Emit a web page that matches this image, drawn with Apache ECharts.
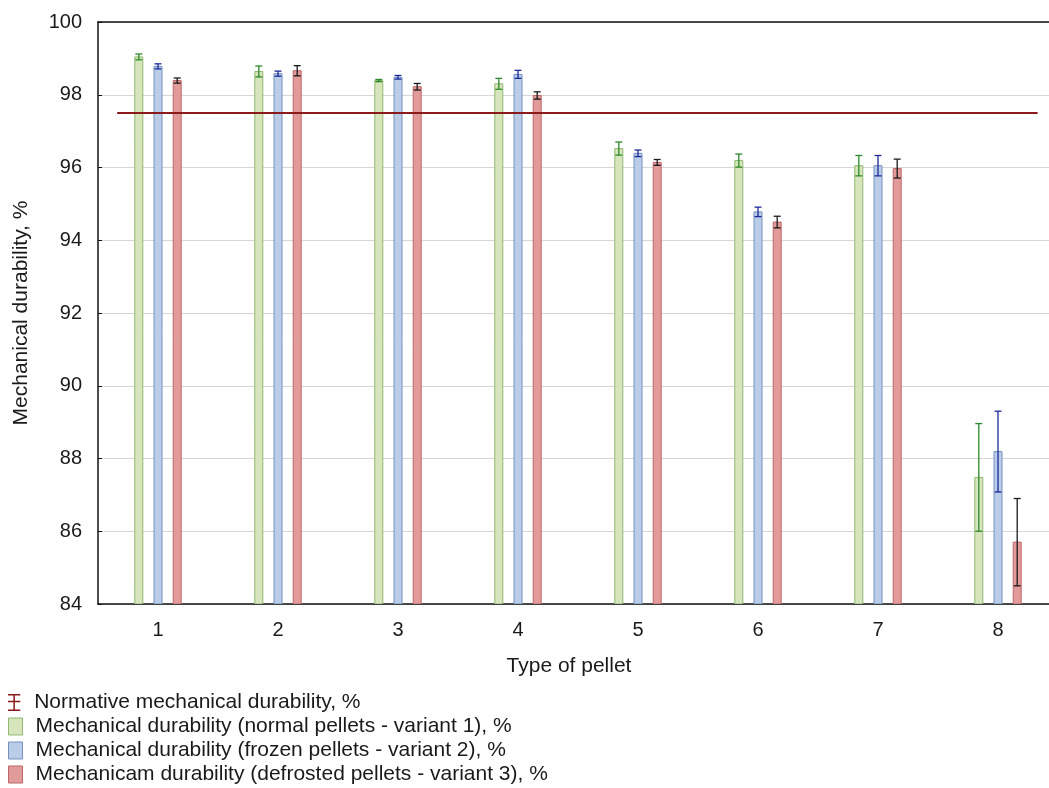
<!DOCTYPE html>
<html>
<head>
<meta charset="utf-8">
<script src="https://cdn.jsdelivr.net/npm/echarts@6/dist/echarts.min.js"></script>
<style>html,body{margin:0;padding:0;background:#fff;overflow:hidden;width:1049px;height:788px}#c{width:1058px;height:788px}</style>
</head>
<body>
<div id="c"></div>
<script>
const categories = ['1','2','3','4','5','6','7','8'];
const yTicks = [84,86,88,90,92,94,96,98,100];
const normative = 97.5;
const normativeSpan = [0.66, 8.33];
const normalVals = [99.04, 98.64, 98.39, 98.30, 96.52, 96.19, 96.05, 87.48];
const normalErr  = [0.08, 0.15, 0.03, 0.15, 0.18, 0.18, 0.28, 1.48];
const frozenVals = [98.78, 98.58, 98.48, 98.56, 96.39, 94.78, 96.05, 88.19];
const frozenErr  = [0.07, 0.07, 0.05, 0.11, 0.09, 0.13, 0.28, 1.11];
const defrostVals = [98.39, 98.66, 98.22, 97.98, 96.14, 94.50, 95.97, 85.70];
const defrostErr  = [0.07, 0.14, 0.09, 0.10, 0.08, 0.16, 0.26, 1.20];
const names = [
  'Normative mechanical durability, %',
  'Mechanical durability (normal pellets - variant 1), %',
  'Mechanical durability (frozen pellets - variant 2), %',
  'Mechanicam durability (defrosted pellets - variant 3), %'
];

const FONT = 'Liberation Sans, Arial, sans-serif';
const styles = [
  {fill:'#d6e5bb', stroke:'#93b872', err:'#2b8a2b'},
  {fill:'#b9cde8', stroke:'#7592bf', err:'#1b2a9a'},
  {fill:'#e29b9b', stroke:'#c06666', err:'#1a1a1a'}
];
const offsets = [-0.16, 0, 0.16];
const BASE = yTicks[0];

function barSeries(idx, vals, errs) {
  const st = styles[idx];
  return {
    type: 'custom',
    name: names[idx + 1],
    xAxisIndex: 2,
    yAxisIndex: 0,
    clip: true,
    data: vals.map((v, i) => [i + 1, v, errs[i]]),
    renderItem: function (params, api) {
      const x = api.value(0) + offsets[idx];
      const v = api.value(1), e = api.value(2);
      const top = api.coord([x, v]);
      const bot = api.coord([x, BASE]);
      const eTop = api.coord([x, v + e]);
      const eBot = api.coord([x, v - e]);
      const w = 8, cap = 3.5;
      return {
        type: 'group',
        children: [
          {type:'rect', shape:{x: top[0] - w/2, y: top[1], width: w, height: bot[1] - top[1]},
           style:{fill: st.fill, stroke: st.stroke, lineWidth: 1}},
          {type:'line', shape:{x1: top[0], y1: eTop[1], x2: top[0], y2: eBot[1]}, style:{stroke: st.err, lineWidth: 1.3}},
          {type:'line', shape:{x1: top[0]-cap, y1: eTop[1], x2: top[0]+cap, y2: eTop[1]}, style:{stroke: st.err, lineWidth: 1.3}},
          {type:'line', shape:{x1: top[0]-cap, y1: eBot[1], x2: top[0]+cap, y2: eBot[1]}, style:{stroke: st.err, lineWidth: 1.3}}
        ]
      };
    }
  };
}

const legendItems = [
  {name: names[0], icon: 'path://M0,0h13v1.6h-13z M5.7,0h1.6v18h-1.6z M0,16.4h13v1.6h-13z M0,7.2h13v1.6h-13z',
   itemStyle: {color: '#8b1a1a', borderWidth: 0}},
  {name: names[1], icon: 'rect', itemStyle: {color: styles[0].fill, borderColor: styles[0].stroke, borderWidth: 1}},
  {name: names[2], icon: 'rect', itemStyle: {color: styles[1].fill, borderColor: styles[1].stroke, borderWidth: 1}},
  {name: names[3], icon: 'rect', itemStyle: {color: styles[2].fill, borderColor: styles[2].stroke, borderWidth: 1}}
];

const chart = echarts.init(document.getElementById('c'), null, {renderer:'canvas'});
const option = {
  animation: false,
  backgroundColor: '#fff',
  textStyle: {fontFamily: FONT},
  grid: {left: 98, top: 22, width: 960, height: 582, containLabel: false},
  legend: legendItems.map((it, i) => ({
    orient: 'vertical', left: 8, top: 692 + 24 * i, itemWidth: 14, itemHeight: 17, padding: 0,
    selectedMode: false,
    textStyle: {fontFamily: FONT, fontSize: 21, color: '#1a1a1a', padding: [0,0,0,8]},
    data: [it]
  })),
  xAxis: [
    {type: 'category', data: categories, position: 'bottom', boundaryGap: true,
     name: 'Type of pellet', nameLocation: 'middle', nameGap: 52,
     nameTextStyle: {fontFamily: FONT, fontSize: 21, color: '#1a1a1a', padding: [0, 18, 0, 0]},
     axisLine: {lineStyle: {color: '#111', width: 1.5}},
     axisTick: {inside: true, alignWithLabel: true, length: 4, lineStyle: {color: '#111'}},
     axisLabel: {fontFamily: FONT, fontSize: 20, color: '#1a1a1a', margin: 16},
     splitLine: {show: false}},
    {type: 'category', data: categories, position: 'top', boundaryGap: true,
     axisLine: {lineStyle: {color: '#111', width: 1.5}},
     axisTick: {inside: true, alignWithLabel: true, length: 4, lineStyle: {color: '#111'}},
     axisLabel: {show: false}, splitLine: {show: false}},
    {type: 'value', min: 0.5, max: 8.5, show: false}
  ],
  yAxis: [
    {type: 'value', min: yTicks[0], max: yTicks[yTicks.length - 1], interval: 2,
     name: 'Mechanical durability, %', nameLocation: 'middle', nameGap: 66, nameRotate: 90,
     nameTextStyle: {fontFamily: FONT, fontSize: 21, color: '#1a1a1a'},
     axisLine: {show: true, lineStyle: {color: '#111', width: 1.5}},
     axisTick: {show: true, inside: true, length: 4, lineStyle: {color: '#111'}},
     axisLabel: {fontFamily: FONT, fontSize: 20, color: '#1a1a1a', margin: 16},
     splitLine: {show: true, lineStyle: {color: '#d6d6d6', width: 1}}}
  ],
  series: [
    {type: 'line', name: names[0], xAxisIndex: 2, yAxisIndex: 0, symbol: 'none',
     lineStyle: {color: '#8b1a1a', width: 2}, itemStyle: {color: '#8b1a1a'},
     data: normativeSpan.map(x => [x, normative]), z: 3},
    barSeries(0, normalVals, normalErr),
    barSeries(1, frozenVals, frozenErr),
    barSeries(2, defrostVals, defrostErr)
  ]
};
chart.setOption(option);
</script>
</body>
</html>
